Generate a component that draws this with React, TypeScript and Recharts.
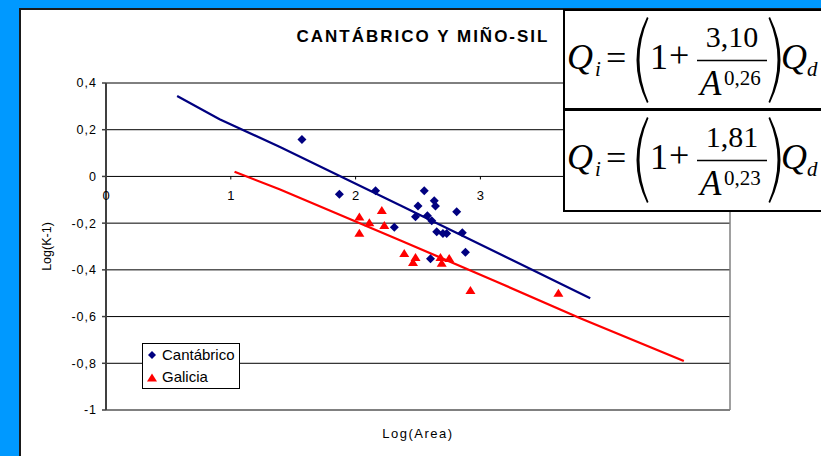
import {
  CartesianGrid,
  Label,
  Legend,
  ReferenceLine,
  Scatter,
  ScatterChart,
  XAxis,
  YAxis,
} from "recharts";

// log(area) / log(K-1) per basin
const cantabricoX = [1.57, 1.87, 2.16, 2.55, 2.63, 2.64, 2.5, 2.81, 2.48, 2.575, 2.61, 2.31, 2.65, 2.7, 2.73, 2.855, 2.88, 2.6];
const cantabricoY = [0.158, -0.076, -0.061, -0.061, -0.104, -0.127, -0.127, -0.151, -0.173, -0.168, -0.19, -0.218, -0.237, -0.244, -0.244, -0.241, -0.325, -0.352];

const galiciaX = [2.03, 2.03, 2.11, 2.21, 2.23, 2.39, 2.48, 2.46, 2.68, 2.69, 2.75, 2.92, 3.625];
const galiciaY = [-0.174, -0.243, -0.198, -0.146, -0.21, -0.33, -0.347, -0.369, -0.347, -0.372, -0.351, -0.488, -0.5];

// regression curves
const cantabricoFitX = [0.57, 0.91, 1.39, 2.36, 3.32, 3.88];
const cantabricoFitY = [0.344, 0.245, 0.127, -0.124, -0.375, -0.522];
const galiciaFitX = [1.03, 1.39, 2.36, 3.13, 3.8, 4.63];
const galiciaFitY = [0.02, -0.055, -0.274, -0.451, -0.607, -0.79];

const xTicks = [0, 1, 2, 3, 4, 5];
// 4 and 5 sit under the formula boxes, so only these get a label
const xTickLabels = ["0", "1", "2", "3", "", ""];
const yTicks = [-1, -0.8, -0.6, -0.4, -0.2, 0, 0.2, 0.4];

const formulas = [
  { coef: "3,10", exp: "0,26" },
  { coef: "1,81", exp: "0,23" },
];

const pairs = (xs: number[], ys: number[]) => xs.map((x, i) => ({ x, y: ys[i] }));
const cantabrico = pairs(cantabricoX, cantabricoY);
const galicia = pairs(galiciaX, galiciaY);
const cantabricoFit = pairs(cantabricoFitX, cantabricoFitY);
const galiciaFit = pairs(galiciaFitX, galiciaFitY);

const NAVY = "#000080";
const RED = "#ff0000";
const SANS = "'Liberation Sans', Arial, sans-serif";
const SERIF = "'Liberation Serif', 'Times New Roman', serif";

const fmt = (v: number) => String(v).replace(".", ",");

const diamondPath = (cx: number, cy: number, r: number) =>
  `M${cx},${cy - r}L${cx + r},${cy}L${cx},${cy + r}L${cx - r},${cy}Z`;
const trianglePath = (cx: number, cy: number) =>
  `M${cx},${cy - 4.5}L${cx + 5},${cy + 3.5}L${cx - 5},${cy + 3.5}Z`;

const Diamond = (p: any) => <path d={diamondPath(p.cx, p.cy, 4.5)} fill={NAVY} />;
const Triangle = (p: any) => <path d={trianglePath(p.cx, p.cy)} fill={RED} />;
const NoDot = () => <g />;

function LegendBox() {
  return (
    <svg width={98} height={46} style={{ display: "block" }}>
      <rect x={0.5} y={0.5} width={97} height={45} fill="#fff" stroke="#000" />
      <path d={diamondPath(10, 12, 4)} fill={NAVY} />
      <text x={20} y={17} fontSize={15} fontFamily={SANS} fill="#000">
        Cantábrico
      </text>
      <path d={trianglePath(10, 35)} fill={RED} />
      <text x={20} y={38.7} fontSize={15} fontFamily={SANS} fill="#000">
        Galicia
      </text>
    </svg>
  );
}

function Formula({ top, coef, exp }: { top: number; coef: string; exp: string }) {
  const o = top - 10;
  return (
    <g fontFamily={SERIF} fill="#000">
      <rect x={564} y={top} width={280} height={top === 10 ? 99 : 101} fill="#fff" stroke="#000" strokeWidth={2} />
      <text x={567} y={69 + o} fontSize={36} fontStyle="italic">Q</text>
      <text x={595} y={76 + o} fontSize={21} fontStyle="italic">i</text>
      <text x={606} y={70 + o} fontSize={36}>=</text>
      <path d={`M647,${17 + o}Q626,${60 + o} 647,${103 + o}L648.5,${102 + o}Q630.5,${60 + o} 648.5,${18 + o}Z`} />
      <text x={650} y={69 + o} fontSize={36}>1</text>
      <text x={669} y={67 + o} fontSize={36}>+</text>
      <text x={732} y={47 + o} fontSize={30} textAnchor="middle">{coef}</text>
      <line x1={697} x2={767} y1={60.5 + o} y2={60.5 + o} stroke="#000" strokeWidth={1.5} />
      <text x={700} y={95 + o} fontSize={35} fontStyle="italic">A</text>
      <text x={724} y={85 + o} fontSize={21}>{exp}</text>
      <path d={`M770,${17 + o}Q791,${60 + o} 770,${103 + o}L768.5,${102 + o}Q786.5,${60 + o} 768.5,${18 + o}Z`} />
      <text x={781} y={69 + o} fontSize={36} fontStyle="italic">Q</text>
      <text x={807} y={76 + o} fontSize={21} fontStyle="italic">d</text>
    </g>
  );
}

export default function App() {
  return (
    <div
      style={{
        position: "fixed",
        left: 0,
        top: 0,
        width: 821,
        height: 456,
        background: "#0099ff",
        overflow: "hidden",
      }}
    >
      <div
        style={{
          position: "absolute",
          left: 19,
          top: 8,
          width: 840,
          height: 480,
          background: "#fff",
          borderLeft: "2px solid #1a1a1a",
          borderTop: "2px solid #1a1a1a",
          boxSizing: "border-box",
        }}
      />
      <div style={{ position: "absolute", left: 0, top: 0 }}>
        <ScatterChart
          width={821}
          height={456}
          margin={{ top: 83, right: 91, bottom: 0, left: 20 }}
        >
          <CartesianGrid vertical={false} stroke="#000" strokeOpacity={1} />
          <XAxis
            type="number"
            dataKey="x"
            domain={[0, 5]}
            ticks={xTicks}
            tick={false}
            tickLine={false}
            axisLine={false}
            height={46}
          >
            <Label
              value="Log(Area)"
              position="center"
              fontSize={13}
              fontFamily={SANS}
              fill="#000"
              letterSpacing={1.5}
            />
          </XAxis>
          <YAxis
            type="number"
            dataKey="y"
            domain={[-1, 0.4]}
            ticks={yTicks}
            tickFormatter={fmt}
            width={86}
            tickSize={4}
            tickMargin={5}
            interval={0}
            axisLine={{ stroke: "#404040", strokeWidth: 2 }}
            tickLine={{ stroke: "#404040", strokeWidth: 1.5 }}
            tick={{ fontSize: 12.5, fill: "#000", fontFamily: SANS, letterSpacing: 1 }}
          >
            <Label
              content={(props: any) => {
                const vb = props.viewBox;
                const cx = vb.x + 27;
                const cy = vb.y + vb.height / 2;
                return (
                  <text
                    x={cx}
                    y={cy}
                    transform={`rotate(-90, ${cx}, ${cy})`}
                    textAnchor="middle"
                    dominantBaseline="central"
                    fontSize={12.5}
                    fontFamily={SANS}
                    fill="#000"
                  >
                    Log(K-1)
                  </text>
                );
              }}
            />
          </YAxis>
          <ReferenceLine y={-1} stroke="#808080" strokeWidth={1.5} />
          <ReferenceLine x={5} stroke="#808080" strokeWidth={1.5} />
          {/* the x axis crosses at y = 0, so its ticks hang off that gridline */}
          {xTicks.map((t, i) => (
            <ReferenceLine
              key={t}
              segment={[
                { x: t, y: 0 },
                { x: t, y: -0.013 },
              ]}
              stroke="#000"
              strokeWidth={1}
              label={
                xTickLabels[i]
                  ? {
                      value: xTickLabels[i],
                      position: "bottom",
                      offset: 11,
                      fontSize: 13,
                      fontFamily: SANS,
                      fill: "#000",
                    }
                  : undefined
              }
            />
          ))}
          <Scatter
            data={cantabricoFit}
            line={{ stroke: NAVY, strokeWidth: 2.25 }}
            shape={NoDot}
            isAnimationActive={false}
          />
          <Scatter
            data={galiciaFit}
            line={{ stroke: RED, strokeWidth: 2.25 }}
            shape={NoDot}
            isAnimationActive={false}
          />
          <Scatter name="Cantábrico" data={cantabrico} shape={Diamond} isAnimationActive={false} />
          <Scatter name="Galicia" data={galicia} shape={Triangle} isAnimationActive={false} />
          <Legend
            layout="horizontal"
            verticalAlign="middle"
            align="center"
            wrapperStyle={{ left: 142, top: 343, width: 98, height: 46 }}
            content={() => <LegendBox />}
          />
        </ScatterChart>
      </div>
      <svg
        width={821}
        height={456}
        style={{ position: "absolute", left: 0, top: 0, pointerEvents: "none" }}
      >
        <text
          x={423}
          y={41.5}
          textAnchor="middle"
          fontSize={17}
          fontWeight="bold"
          fontFamily={SANS}
          letterSpacing={2}
          fill="#000"
        >
          CANTÁBRICO Y MIÑO-SIL
        </text>
        {formulas.map((f, i) => (
          <Formula key={i} top={i === 0 ? 10 : 110} coef={f.coef} exp={f.exp} />
        ))}
      </svg>
    </div>
  );
}
